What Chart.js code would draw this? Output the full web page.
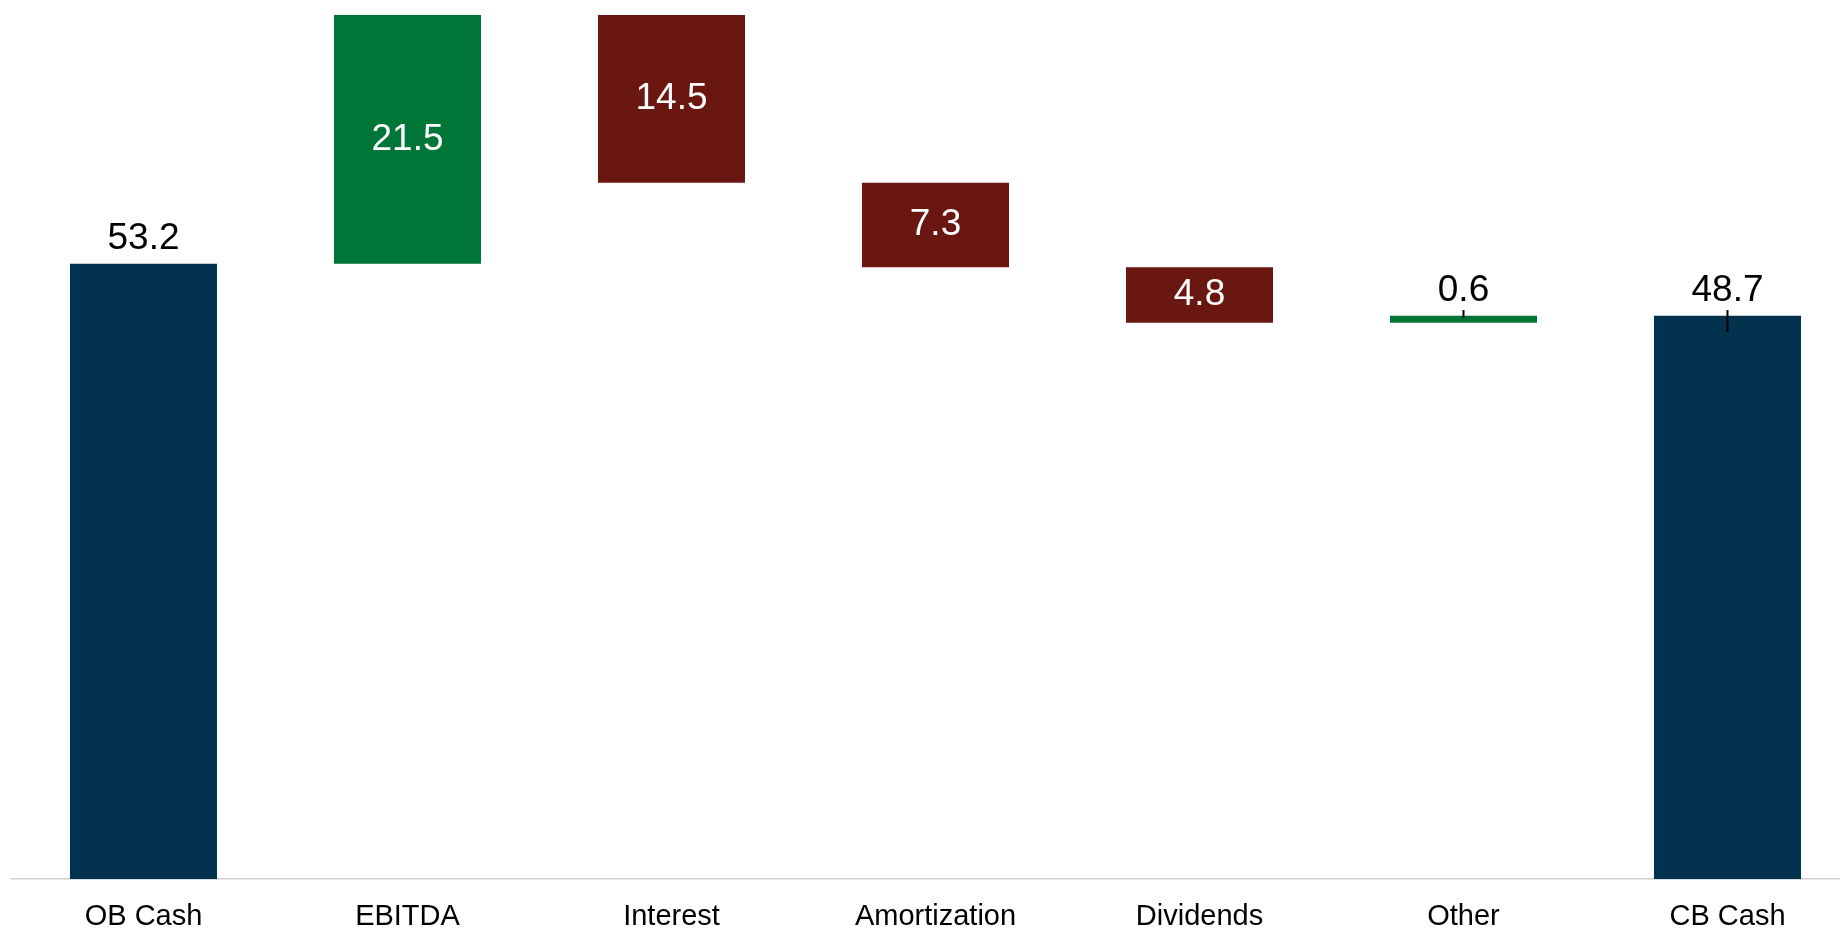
<!DOCTYPE html>
<html>
<head>
<meta charset="utf-8">
<title>Cash bridge</title>
<script src="https://cdn.jsdelivr.net/npm/chart.js@4.4.1/dist/chart.umd.min.js"></script>
<style>
  html, body { margin: 0; padding: 0; background: #fff; overflow: hidden; }
  #wrap { width: 1860px; height: 954px; }
</style>
</head>
<body>
<div id="wrap"><canvas id="bridge" width="1860" height="954"></canvas></div>
<script>
// categories and movements (totals are full bars, the rest float)
const categories = ["OB Cash", "EBITDA", "Interest", "Amortization", "Dividends", "Other", "CB Cash"];
const kinds = ["total", "delta", "delta", "delta", "delta", "delta", "total"];
const values = [53.2, 21.5, -14.5, -7.3, -4.8, 0.6, 48.7];

// the small black marks sitting on the last two bars
const markHigh = [null, null, null, null, null, 49.2, 49.2];
const markLow = [null, null, null, null, null, 48.5, 47.3];

const NAVY = "#03324f";
const GREEN = "#007538";
const RED = "#6b1711";

// build floating ranges from the running total
let running = 0;
const ranges = values.map((v, i) => {
  if (kinds[i] === "total") {
    running = v;
    return [0, v];
  }
  const start = running;
  running = running + v;
  return [start, running];
});
const colors = values.map((v, i) => kinds[i] === "total" ? NAVY : (v >= 0 ? GREEN : RED));

const FONT = "'Liberation Sans', Arial, sans-serif";

const barLabels = {
  id: "barLabels",
  afterDatasetsDraw(chart) {
    const ctx = chart.ctx;
    const meta = chart.getDatasetMeta(0);
    ctx.save();
    ctx.font = "37px " + FONT;
    ctx.textAlign = "center";
    meta.data.forEach((bar, i) => {
      const { x, y, base } = bar.getProps(["x", "y", "base"], true);
      const top = Math.min(y, base);
      const txt = Math.abs(values[i]).toFixed(1);
      if (kinds[i] === "total" || Math.abs(values[i]) < 2) {
        ctx.fillStyle = "#000";
        ctx.textBaseline = "alphabetic";
        ctx.fillText(txt, x, top - 14.5);
      } else {
        ctx.fillStyle = "#fff";
        ctx.textBaseline = "middle";
        ctx.fillText(txt, x, (y + base) / 2);
      }
    });
    ctx.restore();
  }
};

const marks = {
  id: "marks",
  afterDatasetsDraw(chart) {
    const ctx = chart.ctx;
    const yScale = chart.scales.y;
    const meta = chart.getDatasetMeta(0);
    ctx.save();
    ctx.strokeStyle = "#000";
    ctx.lineWidth = 2;
    meta.data.forEach((bar, i) => {
      if (markHigh[i] == null) return;
      ctx.beginPath();
      ctx.moveTo(bar.x, yScale.getPixelForValue(markHigh[i]));
      ctx.lineTo(bar.x, yScale.getPixelForValue(markLow[i]));
      ctx.stroke();
    });
    ctx.restore();
  }
};

new Chart(document.getElementById("bridge").getContext("2d"), {
  type: "bar",
  data: {
    labels: categories,
    datasets: [{
      data: ranges,
      backgroundColor: colors,
      borderWidth: 0,
      borderSkipped: false,
      categoryPercentage: 1,
      barPercentage: 0.557
    }]
  },
  options: {
    responsive: false,
    animation: false,
    devicePixelRatio: 1,
    layout: { padding: { left: 11.5, right: 0.5, top: 0, bottom: 0 } },
    scales: {
      x: {
        grid: { display: false, drawTicks: false },
        border: { display: true, color: "#d0d0d0", width: 1.5 },
        ticks: {
          color: "#000",
          padding: 20,
          maxRotation: 0,
          autoSkip: false,
          font: { family: FONT, size: 29 }
        }
      },
      y: {
        display: false,
        min: 0,
        max: 76
      }
    },
    plugins: {
      legend: { display: false },
      tooltip: { enabled: false }
    }
  },
  plugins: [barLabels, marks]
});
</script>
</body>
</html>
